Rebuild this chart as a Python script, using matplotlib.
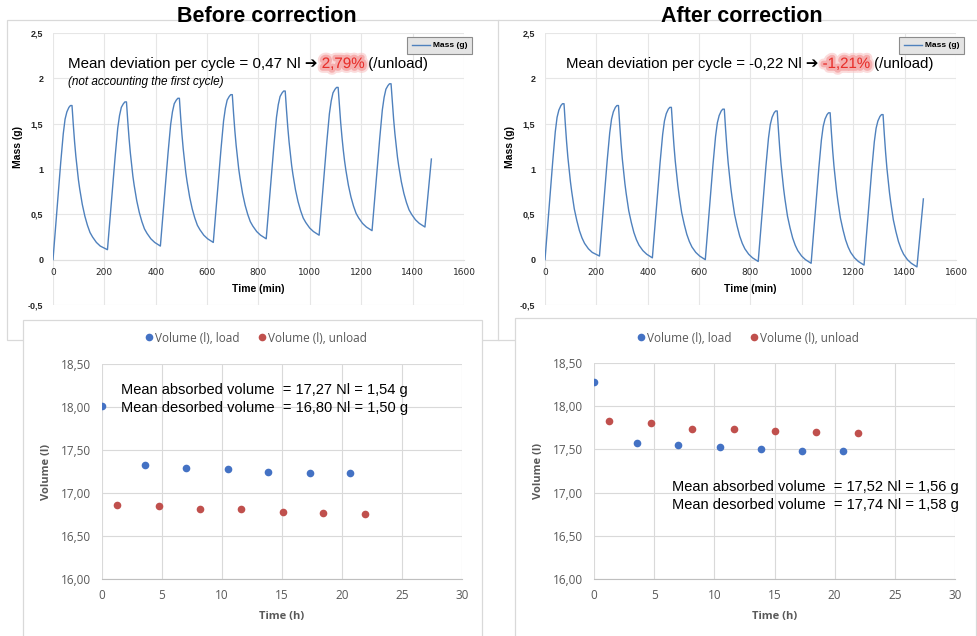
import matplotlib
matplotlib.use("Agg")
import matplotlib.pyplot as plt
import matplotlib.patheffects as pe
from matplotlib.patches import Rectangle

W, H = 978, 636

# ---------------- data: mass during cycling (time in min, mass in g) ----------------
time_min = [
    0, 10, 20, 30, 40, 47, 54, 62, 68, 74, 79, 84, 89, 94, 99, 104, 114, 124, 134, 144, 154, 169, 184,
    212, 222, 232, 242, 252, 259, 266, 274, 280, 286, 291, 296, 301, 306, 311, 316, 326, 336, 346, 356, 366, 381, 396,
    418, 428, 438, 448, 458, 465, 472, 480, 486, 492, 497, 502, 507, 512, 517, 522, 532, 542, 552, 562, 572, 587, 602,
    624, 634, 644, 654, 664, 671, 678, 686, 692, 698, 703, 708, 713, 718, 723, 728, 738, 748, 758, 768, 778, 793, 808,
    830, 840, 850, 860, 870, 877, 884, 892, 898, 904, 909, 914, 919, 924, 929, 934, 944, 954, 964, 974, 984, 999, 1014,
    1036, 1046, 1056, 1066, 1076, 1083, 1090, 1098, 1104, 1110, 1115, 1120, 1125, 1130, 1135, 1140, 1150, 1160, 1170, 1180, 1190, 1205, 1220,
    1242, 1252, 1262, 1272, 1282, 1289, 1296, 1304, 1310, 1316, 1321, 1326, 1331, 1336, 1341, 1346, 1356, 1366, 1376, 1386, 1396, 1411, 1426,
    1448, 1473,
]

mass_before = [
    0.00, 0.36, 0.71, 1.07, 1.39, 1.55, 1.63, 1.68, 1.70, 1.70, 1.49, 1.30, 1.14, 1.01, 0.88, 0.78, 0.61, 0.48, 0.38, 0.30, 0.25, 0.19, 0.15,
    0.11, 0.45, 0.80, 1.14, 1.45, 1.59, 1.68, 1.72, 1.74, 1.74, 1.53, 1.34, 1.18, 1.05, 0.92, 0.82, 0.65, 0.52, 0.42, 0.34, 0.29, 0.23, 0.19,
    0.15, 0.49, 0.84, 1.18, 1.49, 1.63, 1.72, 1.76, 1.78, 1.78, 1.57, 1.38, 1.22, 1.09, 0.96, 0.86, 0.69, 0.56, 0.46, 0.38, 0.33, 0.27, 0.23,
    0.19, 0.53, 0.88, 1.22, 1.53, 1.67, 1.76, 1.80, 1.82, 1.82, 1.61, 1.42, 1.26, 1.13, 1.00, 0.90, 0.73, 0.60, 0.50, 0.42, 0.37, 0.31, 0.27,
    0.23, 0.57, 0.92, 1.26, 1.57, 1.71, 1.80, 1.84, 1.86, 1.86, 1.65, 1.46, 1.30, 1.17, 1.04, 0.94, 0.77, 0.64, 0.54, 0.46, 0.41, 0.35, 0.31,
    0.27, 0.61, 0.96, 1.30, 1.61, 1.75, 1.84, 1.88, 1.90, 1.90, 1.70, 1.51, 1.35, 1.21, 1.09, 0.99, 0.82, 0.69, 0.59, 0.51, 0.46, 0.40, 0.36,
    0.32, 0.66, 1.00, 1.34, 1.65, 1.79, 1.88, 1.92, 1.94, 1.94, 1.74, 1.55, 1.39, 1.26, 1.13, 1.03, 0.86, 0.73, 0.63, 0.55, 0.50, 0.44, 0.40,
    0.36, 1.11,
]

mass_after = [
    0.00, 0.36, 0.72, 1.08, 1.41, 1.57, 1.65, 1.70, 1.72, 1.72, 1.50, 1.30, 1.13, 0.99, 0.86, 0.75, 0.56, 0.43, 0.32, 0.24, 0.18, 0.12, 0.08,
    0.04, 0.39, 0.74, 1.09, 1.40, 1.55, 1.63, 1.68, 1.70, 1.70, 1.48, 1.28, 1.11, 0.97, 0.84, 0.73, 0.54, 0.41, 0.30, 0.22, 0.16, 0.10, 0.06,
    0.02, 0.37, 0.72, 1.07, 1.38, 1.53, 1.61, 1.66, 1.68, 1.68, 1.46, 1.26, 1.09, 0.95, 0.82, 0.71, 0.52, 0.39, 0.28, 0.20, 0.14, 0.08, 0.04,
    0.00, 0.35, 0.70, 1.05, 1.36, 1.51, 1.59, 1.64, 1.66, 1.66, 1.44, 1.24, 1.07, 0.93, 0.80, 0.69, 0.50, 0.37, 0.26, 0.18, 0.12, 0.06, 0.02,
    -0.02, 0.33, 0.68, 1.03, 1.34, 1.49, 1.57, 1.62, 1.64, 1.64, 1.42, 1.22, 1.05, 0.91, 0.78, 0.67, 0.48, 0.35, 0.24, 0.16, 0.10, 0.04, 0.00,
    -0.04, 0.31, 0.66, 1.01, 1.32, 1.47, 1.55, 1.60, 1.62, 1.62, 1.40, 1.20, 1.03, 0.89, 0.76, 0.65, 0.46, 0.33, 0.22, 0.14, 0.08, 0.02, -0.02,
    -0.06, 0.29, 0.64, 0.99, 1.30, 1.45, 1.53, 1.58, 1.60, 1.60, 1.38, 1.18, 1.01, 0.87, 0.74, 0.63, 0.44, 0.31, 0.20, 0.12, 0.06, 0.00, -0.04,
    -0.08, 0.67,
]

mass_xticks = [0, 200, 400, 600, 800, 1000, 1200, 1400, 1600]
mass_yticks = [-0.5, 0, 0.5, 1, 1.5, 2, 2.5]
mass_ylabels = ["-0,5", "0", "0,5", "1", "1,5", "2", "2,5"]

# ---------------- data: volumes per half-cycle (time in h, volume in l) ----------------
t_load = [0.0, 3.6, 7.0, 10.5, 13.85, 17.3, 20.7]
t_unload = [1.23, 4.71, 8.17, 11.62, 15.05, 18.45, 21.91]
vol_load_before = [18.01, 17.32, 17.29, 17.28, 17.25, 17.23, 17.23]
vol_unload_before = [16.86, 16.85, 16.81, 16.81, 16.78, 16.77, 16.76]
vol_load_after = [18.28, 17.57, 17.55, 17.53, 17.51, 17.48, 17.48]
vol_unload_after = [17.83, 17.80, 17.74, 17.74, 17.71, 17.70, 17.69]

vol_xticks = [0, 5, 10, 15, 20, 25, 30]
vol_yticks = [16.0, 16.5, 17.0, 17.5, 18.0, 18.5]
vol_ylabels = ["16,00", "16,50", "17,00", "17,50", "18,00", "18,50"]

# ---------------- helpers ----------------
def fx(px):
    return px / W


def fy(py):
    return 1 - py / H


def axes_px(x0, y0, x1, y1):
    return [fx(x0), fy(y1), fx(x1) - fx(x0), fy(y0) - fy(y1)]


fig = plt.figure(figsize=(W / 100, H / 100), dpi=100)
fig.patch.set_facecolor("white")

ARIAL = ["Liberation Sans", "DejaVu Sans"]
EXCEL = ["Open Sans", "DejaVu Sans"]

# chart-area frames
for (x0, y0, x1, y1, z) in [(7, 20, 499, 340, -3), (498, 20, 990, 340, -3),
                            (23, 320, 482, 650, -2), (515, 318, 976, 650, -2)]:
    fig.add_artist(Rectangle((fx(x0), fy(y1)), fx(x1) - fx(x0), fy(y0) - fy(y1),
                             transform=fig.transFigure, facecolor="white",
                             edgecolor="#d9d9d9", lw=0.9, zorder=z))


def mass_panel(x0, mass, title, title_x):
    ax = fig.add_axes(axes_px(x0, 33, x0 + 411, 305))
    ax.set_facecolor("none")
    ax.plot(time_min, mass, color="#4f81bd", lw=1.0, label="Mass (g)", zorder=3)
    ax.set_xlim(0, 1600)
    ax.set_ylim(-0.5, 2.5)
    ax.set_xticks(mass_xticks)
    ax.set_xticklabels([str(v) for v in mass_xticks], fontweight="bold", family=ARIAL)
    ax.set_yticks(mass_yticks)
    ax.set_yticklabels(mass_ylabels, fontweight="bold", family=ARIAL)
    ax.tick_params(length=0, labelsize=6.5, colors="#262626")
    ax.tick_params(axis="x", pad=6)
    ax.tick_params(axis="y", pad=7)
    ax.grid(True, color="#e6e6e6", lw=0.8)
    ax.set_axisbelow(True)
    for s in ("left", "top", "right"):
        ax.spines[s].set_visible(False)
    # horizontal axis crosses at zero
    ax.spines["bottom"].set_position(("data", 0))
    ax.spines["bottom"].set_color("#e0e0e0")
    ax.text(-0.085, 0.581, "Mass (g)", transform=ax.transAxes, rotation=90,
            ha="center", va="center", fontsize=7.5, fontweight="bold", family=ARIAL)
    ax.text(0.5, 0.059, "Time (min)", transform=ax.transAxes, ha="center",
            va="center", fontsize=7.5, fontweight="bold", family=ARIAL)
    leg = ax.legend(loc="center", bbox_to_anchor=(0.94, 0.954),
                    handlelength=2.2, handletextpad=0.3, borderpad=0.6,
                    fancybox=False, framealpha=1, facecolor="#e4e4e4",
                    edgecolor="#8c8c8c", prop={"family": ARIAL, "weight": "bold", "size": 6})
    leg.get_frame().set_linewidth(0.8)
    fig.text(fx(title_x), fy(17), title, ha="center", va="center",
             fontsize=15.5, fontweight="bold", family=ARIAL)
    return ax


glow = [pe.Stroke(linewidth=7, foreground="#f9c4c4", alpha=0.6),
        pe.Stroke(linewidth=4, foreground="#f4a3a3", alpha=0.8),
        pe.Normal()]

mass_panel(53, mass_before, "Before correction", 267)
mass_panel(545, mass_after, "After correction", 742)

renderer = fig.canvas.get_renderer()


def annotate_dev(x_px, lead, pct, size):
    """Deviation sentence with the percentage highlighted in red."""
    t1 = fig.text(fx(x_px), fy(64), lead + " \u2794 ", ha="left", va="center",
                  fontsize=size, family=ARIAL)
    x = x_px + t1.get_window_extent(renderer=renderer).width
    t2 = fig.text(fx(x), fy(64), pct, ha="left", va="center", fontsize=size,
                  family=ARIAL, color="#e8302c", path_effects=glow)
    x += t2.get_window_extent(renderer=renderer).width
    fig.text(fx(x), fy(64), " (/unload)", ha="left", va="center", fontsize=size,
             family=ARIAL)


annotate_dev(68, "Mean deviation per cycle = 0,47 Nl", "2,79%", 10.9)
fig.text(fx(68), fy(82), "(not accounting the first cycle)", ha="left", va="center",
         fontsize=8.5, style="italic", family=ARIAL)
annotate_dev(566, "Mean deviation per cycle = -0,22 Nl", "-1,21%", 10.8)


def volume_panel(x0, x1, ytop, vload, vunload, leg_cx, lines, text_xy):
    ax = fig.add_axes(axes_px(x0, ytop, x1, 579))
    ax.set_facecolor("none")
    ax.plot(t_load, vload, "o", color="#4472c4", ms=5.5, mew=0,
            label="Volume (l), load", zorder=3)
    ax.plot(t_unload, vunload, "o", color="#c0504d", ms=5.5, mew=0,
            label="Volume (l), unload", zorder=3)
    ax.set_xlim(0, 30)
    ax.set_ylim(16, 18.5)
    ax.set_xticks(vol_xticks)
    ax.set_xticklabels([str(v) for v in vol_xticks], family=EXCEL)
    ax.set_yticks(vol_yticks)
    ax.set_yticklabels(vol_ylabels, family=EXCEL)
    ax.tick_params(length=0, labelsize=8.5, colors="#595959")
    ax.tick_params(axis="x", pad=7)
    ax.tick_params(axis="y", pad=8)
    ax.grid(True, color="#d9d9d9", lw=0.8)
    ax.set_axisbelow(True)
    for s in ("left", "top", "right"):
        ax.spines[s].set_visible(False)
    ax.spines["bottom"].set_color("#bfbfbf")
    w = x1 - x0
    h = 579 - ytop
    ax.text(-55 / w, 0.5, "Volume (l)", transform=ax.transAxes,
            rotation=90, ha="center", va="center", fontsize=8, fontweight="bold",
            color="#595959", family=EXCEL)
    ax.text(0.5, -(616 - 579) / h, "Time (h)", transform=ax.transAxes,
            ha="center", va="center", fontsize=8, fontweight="bold",
            color="#595959", family=EXCEL)
    ax.legend(loc="center", bbox_to_anchor=((leg_cx - x0) / w, (579 - 338) / h),
              ncol=2, frameon=False, handlelength=0.6, handletextpad=0.2,
              columnspacing=1.6, labelcolor="#595959",
              prop={"family": EXCEL, "size": 8.5})
    tx, ty = text_xy
    for i, line in enumerate(lines):
        fig.text(fx(tx), fy(ty + 18 * i), line, ha="left", va="center",
                 fontsize=10.5, family=ARIAL)
    return ax


volume_panel(102, 462, 364, vol_load_before, vol_unload_before, 256,
             ["Mean absorbed volume  = 17,27 Nl = 1,54 g",
              "Mean desorbed volume  = 16,80 Nl = 1,50 g"], (121, 390))
volume_panel(594, 955, 363, vol_load_after, vol_unload_after, 748,
             ["Mean absorbed volume  = 17,52 Nl = 1,56 g",
              "Mean desorbed volume  = 17,74 Nl = 1,58 g"], (672, 487))

fig.savefig("out.png", dpi=100)
